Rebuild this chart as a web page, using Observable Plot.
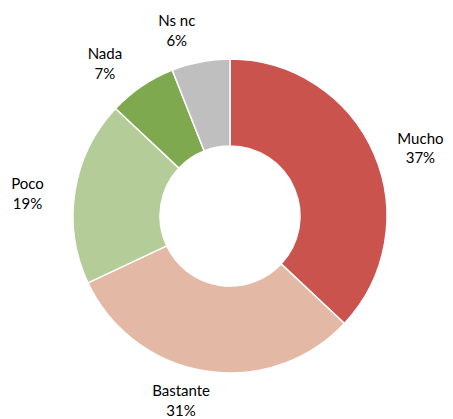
<!DOCTYPE html>
<html><head><meta charset="utf-8">
<script src="https://cdn.jsdelivr.net/npm/d3@7"></script>
<script src="https://cdn.jsdelivr.net/npm/@observablehq/plot@0.6"></script>
<style>body{margin:0;background:#fff}</style>
</head><body><div id="chart"></div>
<script>
const categories = ["Mucho", "Bastante", "Poco", "Nada", "Ns nc"];
const values = [37, 31, 19, 7, 6];
const colors = ["#CB534D", "#E3B9A5", "#B4CC98", "#7EA94F", "#BFBFBF"];

const W = 453, H = 419, cx = 230, cy = 216, R = 157, r0 = 70, LR = 188;
const pie = d3.pie().sort(null).value(d => d.value)(categories.map((c, i) => ({cat: c, value: values[i], color: colors[i]})));
const rows = pie.map(p => {
  const a = (p.startAngle + p.endAngle) / 2;
  const s = Math.sin(a), c = Math.cos(a);
  return {...p.data, startAngle: p.startAngle, endAngle: p.endAngle,
    lx: cx + LR * s + s * p.data.cat.length * 4.3 - 15 * c * c,
    ly: cy - LR * c + 10 * Math.abs(s) - 4,
    label: p.data.cat + "\n" + p.data.value + "%"};
});

const arcMark = (index, scales, values, dims, ctx) => {
  const g = d3.create("svg:g").attr("transform", `translate(${scales.x(cx)},${scales.y(cy)})`);
  const arc = d3.arc().innerRadius(r0).outerRadius(R);
  for (const d of rows) {
    g.append("path").attr("d", arc(d)).attr("fill", d.color).attr("stroke", "#fff").attr("stroke-width", 1.5);
  }
  return g.node();
};

const chart = Plot.plot({
  width: W, height: H, margin: 0,
  x: {domain: [0, W], range: [0, W], axis: null},
  y: {domain: [0, H], range: [0, H], axis: null},
  style: {fontFamily: "Lato, 'Open Sans', sans-serif", fontSize: "15px", background: "#fff"},
  marks: [
    arcMark,
    Plot.text(rows, {x: "lx", y: "ly", text: "label", fill: "#000", lineHeight: 1.3, fontSize: 15})
  ]
});
document.getElementById("chart").append(chart);
</script></body></html>
